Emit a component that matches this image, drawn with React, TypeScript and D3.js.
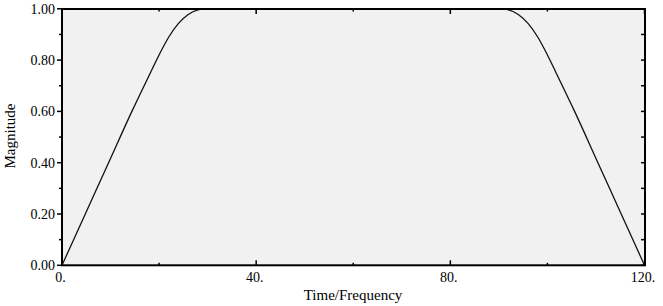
import React from "react";
import * as d3 from "d3";

const xValues = [0, 4.8, 9.6, 14.4, 18.2, 20, 22, 24, 26, 28, 29.5, 60, 90.5, 92, 94, 96, 98, 100, 101.8, 105.6, 110.4, 115.2, 120];
const magnitude = [0, 0.2, 0.4, 0.6, 0.75, 0.82, 0.89, 0.943, 0.978, 0.996, 1, 1, 1, 0.996, 0.978, 0.943, 0.89, 0.82, 0.75, 0.6, 0.4, 0.2, 0];
const xMajorTicks = [0, 40, 80, 120];
const xMinorTicks = [20, 60, 100];
const yMajorTicks = [0, 0.2, 0.4, 0.6, 0.8, 1.0];
const yMinorTicks = [0.1, 0.3, 0.5, 0.7, 0.9];
const xTitle = "Time/Frequency";
const yTitle = "Magnitude";

const W = 663;
const H = 306;
const L = 62, R = 645, T = 9, B = 265.3;

export default function App() {
  const x = d3.scaleLinear().domain([0, 120]).range([L, 644.5]);
  const y = d3.scaleLinear().domain([0, 1]).range([B, 8.8]);
  const data = xValues.map((v, i) => [v, magnitude[i]] as [number, number]);
  const line = d3.line<[number, number]>().x(d => x(d[0])).y(d => y(d[1])).curve(d3.curveMonotoneX);
  const font = "'Liberation Serif', 'Times New Roman', serif";
  const allY = [...yMajorTicks, ...yMinorTicks];
  return (
    <svg width={W} height={H} style={{ position: "absolute", left: 0, top: 0, background: "#fff" }}>
      <rect x={L} y={T} width={R - L} height={B - T} fill="#f1f1f1" />
      <path d={line(data) || ""} fill="none" stroke="#111" strokeWidth={1.3} />
      {/* bottom & top ticks */}
      {xMajorTicks.map(t => (
        <g key={"xM" + t}>
          <line x1={x(t)} x2={x(t)} y1={B} y2={B - 5} stroke="#000" strokeWidth={1.5} />
          <line x1={x(t)} x2={x(t)} y1={T} y2={T + 5} stroke="#000" strokeWidth={1.5} />
          <text x={x(t) - 1.5} y={281.5} fontFamily={font} fontSize={14} textAnchor="middle">{t + "."}</text>
        </g>
      ))}
      {xMinorTicks.map(t => (
        <g key={"xm" + t}>
          <line x1={x(t)} x2={x(t)} y1={B} y2={B - 2.5} stroke="#000" strokeWidth={1.5} />
          <line x1={x(t)} x2={x(t)} y1={T} y2={T + 2.5} stroke="#000" strokeWidth={1.5} />
        </g>
      ))}
      {/* left ticks */}
      {yMajorTicks.map(t => (
        <g key={"yM" + t}>
          <line x1={L} x2={L - 5} y1={y(t)} y2={y(t)} stroke="#000" strokeWidth={1.5} />
          <text x={55} y={y(t)} dy="0.35em" fontFamily={font} fontSize={14} textAnchor="end">{t.toFixed(2)}</text>
        </g>
      ))}
      {yMinorTicks.map(t => (
        <line key={"ym" + t} x1={L} x2={L - 3} y1={y(t)} y2={y(t)} stroke="#000" strokeWidth={1.5} />
      ))}
      {/* right ticks */}
      {allY.map(t => (
        <line key={"yr" + t} x1={R} x2={R - 4} y1={y(t)} y2={y(t)} stroke="#000" strokeWidth={1.5} />
      ))}
      <rect x={L} y={T} width={R - L} height={B - T} fill="none" stroke="#000" strokeWidth={2} />
      <text x={353} y={300} fontFamily={font} fontSize={15} textAnchor="middle">{xTitle}</text>
      <text transform={`translate(14.5,136) rotate(-90)`} fontFamily={font} fontSize={15} textAnchor="middle">{yTitle}</text>
    </svg>
  );
}
